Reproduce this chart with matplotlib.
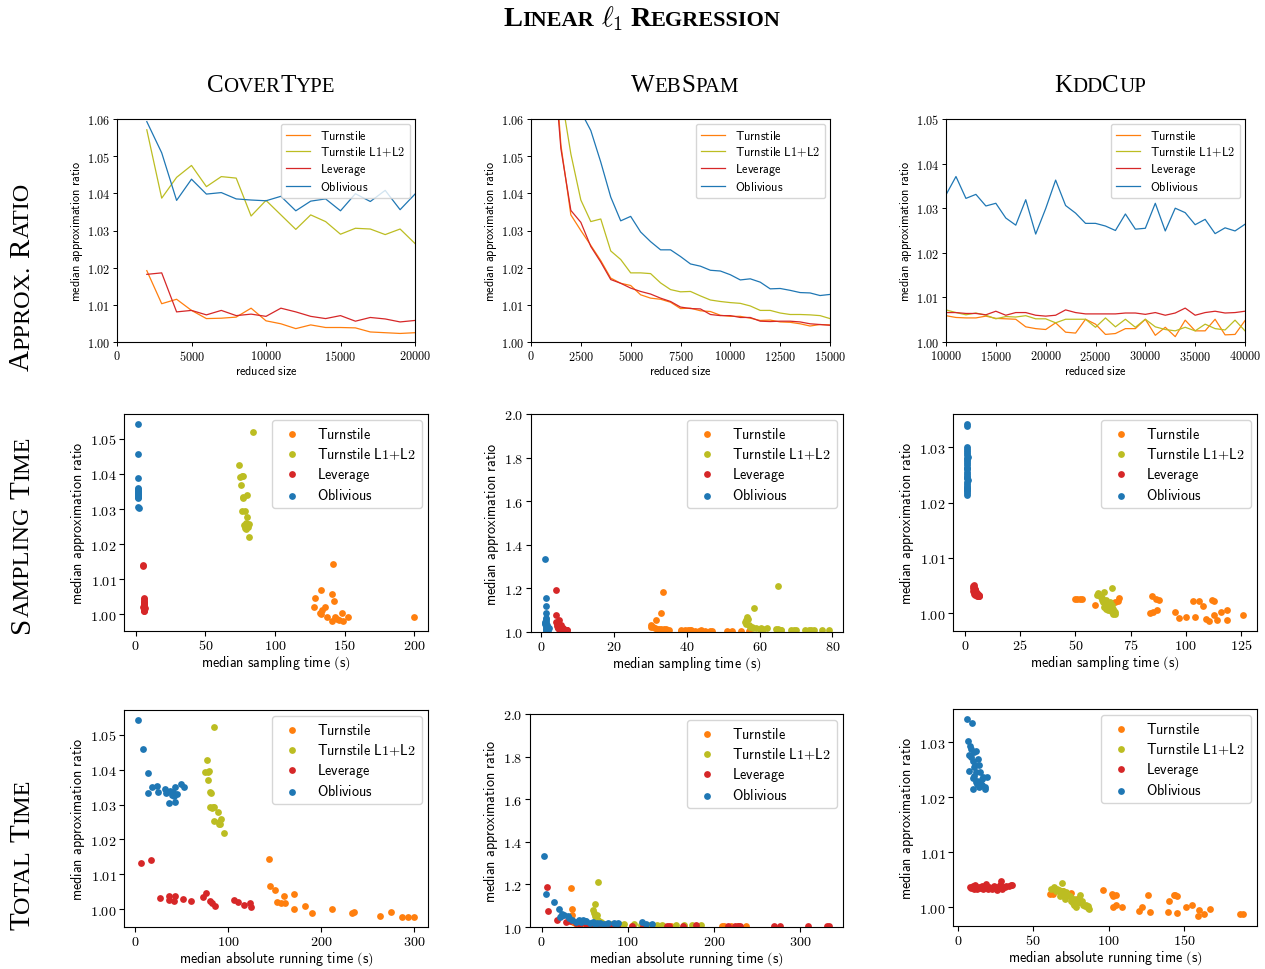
import numpy as np
import matplotlib
matplotlib.use('Agg')
import matplotlib.pyplot as plt
from matplotlib.ticker import FormatStrFormatter, MultipleLocator

plt.rcParams['mathtext.fontset'] = 'cm'

# ---- data ------------------------------------------------------------------
methods = ['Turnstile', 'Turnstile L1+L2', 'Leverage', 'Oblivious']
colors = ['#ff7f0e', '#bcbd22', '#d62728', '#1f77b4']
datasets = ['CoverType', 'WebSpam', 'KddCup']
rows = ['Approx. Ratio', 'Sampling Time', 'Total Time']

# approx. ratio vs reduced size
cov_size = list(range(2000, 20001, 1000))
cov_turn = [1.0192, 1.0103, 1.0115, 1.0085, 1.0063, 1.0064, 1.0067, 1.0091, 1.0057, 1.0049,
            1.0036, 1.0046, 1.0039, 1.0039, 1.0038, 1.0027, 1.0025, 1.0023, 1.0025]
cov_l1l2 = [1.0571, 1.0387, 1.0443, 1.0475, 1.0418, 1.0445, 1.0441, 1.0339, 1.0381, 1.0342,
            1.0303, 1.0342, 1.0324, 1.0290, 1.0306, 1.0304, 1.0289, 1.0304, 1.0265]
cov_lev = [1.0182, 1.0186, 1.0081, 1.0085, 1.0073, 1.0085, 1.0071, 1.0075, 1.0069, 1.0091,
           1.0081, 1.0069, 1.0063, 1.0071, 1.0056, 1.0066, 1.0062, 1.0054, 1.0058]
cov_obl = [1.0593, 1.0509, 1.0381, 1.0438, 1.0398, 1.0402, 1.0385, 1.0382, 1.0380, 1.0392,
           1.0353, 1.0379, 1.0385, 1.0353, 1.0399, 1.0378, 1.0408, 1.0356, 1.0398]

web_size = list(range(1000, 15001, 500))
web_turn = [1.090, 1.053, 1.0342, 1.0300, 1.0260, 1.0219, 1.0172, 1.0158, 1.0152, 1.0127,
            1.0118, 1.0115, 1.0107, 1.0090, 1.0091, 1.0084, 1.0082, 1.0072, 1.0069, 1.0069,
            1.0064, 1.0058, 1.0059, 1.0054, 1.0053, 1.0049, 1.0043, 1.0047, 1.0046]
web_l1l2 = [1.100, 1.067, 1.0506, 1.0382, 1.0324, 1.0331, 1.0245, 1.0222, 1.0186, 1.0186,
            1.0184, 1.0159, 1.0141, 1.0135, 1.0136, 1.0124, 1.0113, 1.0109, 1.0106, 1.0104,
            1.0097, 1.0085, 1.0085, 1.0078, 1.0074, 1.0074, 1.0073, 1.0071, 1.0063]
web_lev = [1.085, 1.052, 1.0354, 1.0322, 1.0257, 1.0215, 1.0168, 1.0158, 1.0145, 1.0136,
           1.0129, 1.0118, 1.0109, 1.0094, 1.0090, 1.0089, 1.0074, 1.0071, 1.0071, 1.0066,
           1.0066, 1.0056, 1.0055, 1.0056, 1.0056, 1.0054, 1.0049, 1.0047, 1.0045]
web_obl = [1.110, 1.090, 1.075, 1.062, 1.0569, 1.0484, 1.0390, 1.0326, 1.0338, 1.0296,
           1.0270, 1.0248, 1.0248, 1.0230, 1.0210, 1.0204, 1.0193, 1.0191, 1.0181, 1.0167,
           1.0170, 1.0161, 1.0143, 1.0144, 1.0139, 1.0133, 1.0132, 1.0125, 1.0128]

kdd_size = list(range(10000, 40001, 1000))
kdd_turn = [1.0059, 1.0055, 1.0054, 1.0054, 1.0058, 1.0053, 1.0052, 1.0051, 1.0034, 1.0030,
            1.0028, 1.0043, 1.0022, 1.0020, 1.0051, 1.0040, 1.0017, 1.0019, 1.0030, 1.0030,
            1.0051, 1.0015, 1.0033, 1.0012, 1.0049, 1.0025, 1.0025, 1.0051, 1.0016, 1.0017, 1.0048]
kdd_l1l2 = [1.0072, 1.0066, 1.0061, 1.0065, 1.0060, 1.0052, 1.0057, 1.0056, 1.0059, 1.0052,
            1.0052, 1.0043, 1.0051, 1.0051, 1.0051, 1.0033, 1.0054, 1.0034, 1.0051, 1.0033,
            1.0051, 1.0034, 1.0028, 1.0025, 1.0033, 1.0025, 1.0040, 1.0030, 1.0027, 1.0049, 1.0025]
kdd_lev = [1.0066, 1.0066, 1.0064, 1.0064, 1.0061, 1.0069, 1.0060, 1.0066, 1.0066, 1.0060,
           1.0058, 1.0060, 1.0072, 1.0066, 1.0063, 1.0063, 1.0063, 1.0063, 1.0065, 1.0065,
           1.0062, 1.0066, 1.0060, 1.0065, 1.0076, 1.0060, 1.0066, 1.0069, 1.0065, 1.0066, 1.0069]
kdd_obl = [1.0330, 1.0371, 1.0322, 1.0331, 1.0305, 1.0311, 1.0278, 1.0262, 1.0319, 1.0242,
           1.0299, 1.0363, 1.0306, 1.0289, 1.0266, 1.0266, 1.0260, 1.0250, 1.0287, 1.0253,
           1.0255, 1.0311, 1.0249, 1.0300, 1.0290, 1.0263, 1.0275, 1.0243, 1.0256, 1.0249, 1.0264]

# CoverType: sampling time, total time, ratio
cov_samp_turn = [142.0, 132.9, 128.9, 141.3, 142.3, 127.9, 136.0, 133.7, 132.5, 133.0,
                 137.2, 140.8, 143.2, 146.3, 148.0, 148.7, 152.3, 200.0, 144.4]
cov_ratio_turn = [1.0144, 1.0068, 1.0045, 1.0058, 1.0038, 1.0020, 1.0019, 1.0012, 1.0003, 1.0001,
                  0.9993, 0.9980, 0.9993, 0.9984, 1.0002, 0.9980, 0.9993, 0.9993, 0.9986]
cov_samp_l1l2 = [84.1, 74.5, 76.4, 77.4, 75.9, 77.4, 80.2, 76.2, 78.8, 80.0,
                 78.0, 81.2, 79.3, 81.0, 75.0, 77.0, 80.5, 79.5, 78.5]
cov_ratio_l1l2 = [1.0521, 1.0426, 1.0394, 1.0394, 1.0369, 1.0334, 1.0339, 1.0293, 1.0295, 1.0277,
                  1.0253, 1.0258, 1.0242, 1.0220, 1.0390, 1.0330, 1.0250, 1.0260, 1.0245]
cov_samp_lev = [5.0, 5.3, 5.8, 6.0, 5.6, 6.1, 5.7, 6.2, 5.9, 6.0,
                5.5, 6.3, 5.8, 6.1, 5.9, 6.2, 6.0, 5.7, 6.1]
cov_ratio_lev = [1.0140, 1.0136, 1.0046, 1.0042, 1.0038, 1.0034, 1.0031, 1.0028, 1.0025, 1.0022,
                 1.0020, 1.0018, 1.0016, 1.0014, 1.0012, 1.0010, 1.0009, 1.0030, 1.0026]
cov_samp_obl = [1.5, 1.5, 1.6, 1.7, 1.5, 1.8, 1.6, 1.7, 1.9, 1.6,
                1.8, 1.7, 1.6, 1.9, 1.7, 1.8, 2.0, 1.6, 1.7]
cov_ratio_obl = [1.0543, 1.0458, 1.0389, 1.0360, 1.0356, 1.0352, 1.0348, 1.0344, 1.0340, 1.0336,
                 1.0333, 1.0330, 1.0345, 1.0350, 1.0338, 1.0307, 1.0304, 1.0335, 1.0342]

cov_tot_turn = [144.4, 145.2, 150.2, 152.7, 157.0, 159.9, 161.7, 170.7, 171.4, 182.9,
                190.1, 212.0, 232.8, 235.0, 263.4, 275.6, 286.7, 293.6, 300.0]
cov_tot_ratio_turn = [1.0144, 1.0067, 1.0057, 1.0020, 1.0018, 1.0038, 1.0018, 1.0045, 1.0002, 1.0010,
                      0.9991, 1.0000, 0.9991, 0.9992, 0.9981, 0.9993, 0.9978, 0.9979, 0.9979]
cov_tot_l1l2 = [85.2, 77.3, 75.1, 80.1, 78.5, 78.3, 80.8, 81.9, 81.2, 85.2,
                89.5, 84.8, 92.0, 90.2, 91.5, 95.9, 83.0, 84.0, 90.0]
cov_tot_ratio_l1l2 = [1.0522, 1.0426, 1.0394, 1.0396, 1.0392, 1.0369, 1.0337, 1.0332, 1.0292, 1.0294,
                      1.0278, 1.0254, 1.0259, 1.0244, 1.0244, 1.0219, 1.0290, 1.0292, 1.0250]
cov_tot_lev = [6.8, 17.2, 26.9, 37.0, 37.0, 43.5, 42.4, 51.7, 60.0, 72.9,
               76.5, 81.2, 82.6, 86.2, 106.7, 110.7, 117.5, 123.2, 124.3]
cov_tot_ratio_lev = [1.0134, 1.0140, 1.0034, 1.0038, 1.0028, 1.0039, 1.0023, 1.0029, 1.0023, 1.0035,
                     1.0046, 1.0024, 1.0018, 1.0011, 1.0026, 1.0020, 1.0012, 1.0018, 1.0008]
cov_tot_obl = [3.2, 8.3, 14.0, 13.7, 18.0, 23.7, 24.4, 32.7, 34.0, 37.0,
               41.3, 43.5, 43.5, 45.6, 49.6, 52.8, 40.2, 42.0, 38.0]
cov_tot_ratio_obl = [1.0542, 1.0458, 1.0389, 1.0334, 1.0350, 1.0354, 1.0337, 1.0345, 1.0332, 1.0305,
                     1.0335, 1.0351, 1.0307, 1.0330, 1.0358, 1.0349, 1.0328, 1.0325, 1.0340]

# WebSpam
web_samp_turn = [33.4, 33.1, 31.5, 30.1, 30.3, 30.8, 31.2, 32.0, 32.5, 33.0, 33.8, 34.4, 35.2, 38.5,
                 39.5, 40.5, 41.2, 42.4, 43.5, 45.0, 46.5, 38.5, 41.0, 51.0, 52.5, 55.0, 57.0, 44.0, 47.0]
web_ratio_turn = [1.183, 1.085, 1.055, 1.031, 1.025, 1.022, 1.018, 1.016, 1.015, 1.014, 1.012, 1.012,
                  1.011, 1.007, 1.008, 1.007, 1.007, 1.006, 1.006, 1.006, 1.005, 1.006, 1.008, 1.004,
                  1.004, 1.004, 1.003, 1.007, 1.005]
web_samp_l1l2 = [65.1, 58.5, 56.6, 56.2, 56.0, 56.4, 57.0, 57.5, 58.0, 59.0, 60.0, 61.0, 62.0, 64.5,
                 65.0, 65.8, 68.5, 69.5, 72.5, 73.5, 75.0, 77.0, 79.0, 56.8, 58.2, 60.5, 66.0, 70.0, 74.0]
web_ratio_l1l2 = [1.213, 1.112, 1.071, 1.055, 1.045, 1.038, 1.030, 1.025, 1.022, 1.018, 1.016, 1.015,
                  1.017, 1.012, 1.012, 1.011, 1.009, 1.009, 1.008, 1.008, 1.008, 1.007, 1.007, 1.060,
                  1.020, 1.019, 1.010, 1.008, 1.008]
web_samp_lev = [4.3, 4.1, 5.1, 4.8, 5.5, 4.5, 6.0, 5.2, 4.7, 6.5, 5.8, 4.4, 7.0, 5.0, 6.2,
                4.9, 5.6, 7.3, 4.6, 6.8, 5.4, 5.9, 4.2, 6.4, 5.3, 7.1, 4.8, 6.0, 5.7]
web_ratio_lev = [1.192, 1.079, 1.055, 1.040, 1.030, 1.035, 1.020, 1.025, 1.022, 1.010, 1.015, 1.028,
                 1.008, 1.018, 1.012, 1.016, 1.010, 1.008, 1.020, 1.009, 1.014, 1.011, 1.045, 1.010,
                 1.013, 1.007, 1.017, 1.009, 1.012]
web_samp_obl = [1.2, 1.3, 1.4, 1.3, 1.5, 1.2, 1.4, 1.6, 1.3, 1.5, 1.7, 1.2, 1.4, 1.8, 1.6,
                1.3, 1.5, 2.0, 1.7, 1.4, 1.9, 1.2, 1.6, 2.2, 1.5, 1.8, 1.3, 2.1, 1.7]
web_ratio_obl = [1.335, 1.154, 1.118, 1.088, 1.063, 1.046, 1.040, 1.032, 1.025, 1.058, 1.020, 1.036,
                 1.015, 1.022, 1.012, 1.028, 1.010, 1.018, 1.008, 1.030, 1.014, 1.042, 1.009, 1.020,
                 1.011, 1.007, 1.052, 1.010, 1.013]

web_tot_turn = [34.7, 35.1, 35.5, 36.0, 37.0, 39.0, 41.0, 44.0, 47.0, 50.0, 55.0, 60.0, 65.0, 70.0,
                78.0, 85.0, 95.0, 105.0, 120.0, 135.0, 141.0, 150.0, 165.0, 180.0, 209.0, 212.0,
                220.0, 228.0, 236.7]
web_tot_ratio_turn = [1.184, 1.085, 1.055, 1.030, 1.022, 1.018, 1.015, 1.012, 1.010, 1.009, 1.008,
                      1.008, 1.007, 1.007, 1.006, 1.006, 1.006, 1.006, 1.005, 1.005, 1.005, 1.005,
                      1.005, 1.005, 1.005, 1.005, 1.005, 1.005, 1.005]
web_tot_l1l2 = [66.0, 61.4, 61.0, 62.0, 65.0, 63.0, 66.0, 67.0, 68.0, 70.0, 72.0, 75.0, 78.0, 82.0,
                88.0, 95.8, 107.0, 115.0, 125.0, 134.4, 140.0, 155.6, 165.0, 175.0, 184.6, 60.0,
                64.0, 69.0, 90.0]
web_tot_ratio_l1l2 = [1.212, 1.110, 1.065, 1.050, 1.035, 1.042, 1.030, 1.025, 1.020, 1.018, 1.016,
                      1.015, 1.014, 1.013, 1.012, 1.012, 1.012, 1.011, 1.010, 1.010, 1.010, 1.010,
                      1.009, 1.009, 1.008, 1.080, 1.055, 1.022, 1.012]
web_tot_lev = [5.9, 7.5, 18.4, 22.0, 28.0, 33.0, 40.0, 45.0, 52.0, 58.0, 65.0, 72.0, 80.0, 88.0,
               105.0, 118.0, 145.5, 148.0, 163.5, 179.0, 216.5, 224.0, 227.5, 230.0, 269.0, 276.5,
               309.4, 331.0, 333.0]
web_tot_ratio_lev = [1.189, 1.077, 1.035, 1.050, 1.025, 1.030, 1.020, 1.015, 1.012, 1.010, 1.010,
                     1.008, 1.008, 1.007, 1.006, 1.006, 1.006, 1.006, 1.006, 1.008, 1.005, 1.006,
                     1.006, 1.005, 1.005, 1.006, 1.004, 1.005, 1.005]
web_tot_obl = [3.1, 4.7, 14.5, 20.4, 23.5, 21.0, 30.2, 32.0, 43.1, 48.0, 52.0, 56.0, 59.6, 64.0,
               68.0, 77.3, 84.3, 89.0, 116.9, 121.6, 127.5, 26.0, 35.0, 40.0, 46.0, 50.0, 62.0,
               72.0, 86.0]
web_tot_ratio_obl = [1.333, 1.153, 1.116, 1.086, 1.063, 1.045, 1.052, 1.040, 1.031, 1.033, 1.028,
                     1.020, 1.025, 1.020, 1.018, 1.019, 1.017, 1.017, 1.024, 1.013, 1.013, 1.055,
                     1.035, 1.025, 1.022, 1.030, 1.015, 1.015, 1.014]

# KddCup
kdd_samp_turn = [50.0, 51.0, 52.0, 53.0, 59.0, 68.0, 70.0, 69.5, 84.5, 86.5, 88.0, 84.0, 85.0, 87.0,
                 95.0, 97.0, 100.0, 104.0, 103.5, 106.0, 108.0, 109.0, 110.5, 112.0, 113.0, 113.0,
                 114.0, 116.0, 118.5, 118.5, 126.0]
kdd_ratio_turn = [1.0026, 1.0026, 1.0026, 1.0026, 1.0015, 1.0020, 1.0027, 1.0023, 1.0032, 1.0026,
                  1.0024, 1.0001, 1.0002, 1.0006, 1.0002, 0.9992, 0.9994, 0.9993, 1.0023, 1.0023,
                  1.0013, 0.9989, 0.9986, 1.0024, 1.0022, 0.9997, 0.9988, 1.0002, 1.0006, 0.9988, 0.9997]
kdd_samp_l1l2 = [60.5, 61.0, 62.0, 63.0, 63.5, 64.0, 64.5, 65.0, 65.5, 66.0, 66.5, 67.0, 67.5, 68.0,
                 61.5, 62.5, 63.0, 64.0, 65.0, 66.0, 67.0, 68.0, 64.5, 65.5, 66.5, 67.5, 63.5, 62.0,
                 60.0, 66.0, 67.0]
kdd_ratio_l1l2 = [1.0037, 1.0032, 1.0028, 1.0038, 1.0022, 1.0025, 1.0018, 1.0015, 1.0012, 1.0010,
                  1.0045, 1.0008, 1.0005, 1.0002, 1.0030, 1.0020, 1.0012, 1.0008, 1.0006, 1.0004,
                  1.0001, 0.9998, 1.0014, 1.0020, 1.0016, 1.0000, 1.0017, 1.0024, 1.0034, 1.0009, 0.9999]
kdd_samp_lev = [3.6, 3.8, 4.0, 4.2, 4.4, 4.6, 4.8, 5.0, 5.2, 5.4, 5.6, 5.8, 6.0, 6.2, 6.4, 3.9,
                4.3, 4.7, 5.1, 5.5, 5.9, 6.3, 4.1, 4.5, 4.9, 5.3, 5.7, 6.1, 4.0, 4.8, 5.6]
kdd_ratio_lev = [1.0046, 1.0050, 1.0052, 1.0048, 1.0044, 1.0042, 1.0040, 1.0038, 1.0036, 1.0035,
                 1.0034, 1.0033, 1.0033, 1.0034, 1.0032, 1.0041, 1.0039, 1.0037, 1.0035, 1.0034,
                 1.0033, 1.0032, 1.0045, 1.0043, 1.0036, 1.0033, 1.0032, 1.0031, 1.0035, 1.0034, 1.0036]
kdd_samp_obl = [0.9, 1.1, 1.0, 1.2, 0.9, 1.0, 1.1, 1.3, 0.9, 1.0, 1.2, 1.1, 0.9, 1.0, 1.2, 1.1,
                1.0, 0.9, 1.3, 1.1, 1.0, 1.2, 0.9, 1.1, 1.0, 1.2, 1.1, 1.0, 0.9, 1.1, 1.0]
kdd_ratio_obl = [1.0342, 1.0338, 1.0300, 1.0297, 1.0293, 1.0290, 1.0286, 1.0282, 1.0279, 1.0275,
                 1.0271, 1.0267, 1.0263, 1.0260, 1.0256, 1.0252, 1.0248, 1.0245, 1.0241, 1.0237,
                 1.0234, 1.0230, 1.0227, 1.0223, 1.0220, 1.0217, 1.0214, 1.0262, 1.0244, 1.0280, 1.0226]

kdd_tot_turn = [61.0, 63.0, 75.0, 79.0, 96.0, 102.0, 103.0, 105.0, 103.0, 105.0, 109.0, 120.0, 122.0,
                126.0, 127.0, 139.0, 140.0, 143.0, 144.0, 145.0, 145.0, 151.0, 155.0, 159.0, 160.0,
                163.0, 167.0, 187.0, 189.0, 70.0, 74.0]
kdd_tot_ratio_turn = [1.0025, 1.0025, 1.0026, 1.0015, 1.0032, 1.0025, 1.0021, 1.0023, 1.0001, 1.0005,
                      1.0000, 0.9993, 1.0001, 1.0023, 0.9991, 0.9991, 1.0012, 1.0023, 1.0023, 1.0021,
                      0.9989, 1.0001, 1.0005, 0.9984, 0.9996, 0.9987, 0.9997, 0.9987, 0.9988, 1.0030, 1.0025]
kdd_tot_l1l2 = [64.0, 65.0, 69.0, 67.0, 68.0, 70.0, 72.0, 71.0, 74.0, 76.0, 77.0, 78.0, 79.0, 80.0,
                81.0, 83.0, 84.0, 86.0, 87.0, 66.0, 70.0, 73.0, 75.0, 77.0, 80.0, 82.0, 85.0, 86.0,
                72.0, 68.0, 62.0]
kdd_tot_ratio_l1l2 = [1.0036, 1.0030, 1.0045, 1.0032, 1.0027, 1.0024, 1.0026, 1.0015, 1.0020, 1.0008,
                      1.0005, 1.0000, 1.0008, 1.0015, 1.0022, 1.0005, 1.0003, 1.0002, 0.9997, 1.0034,
                      1.0030, 1.0022, 1.0012, 1.0015, 1.0010, 1.0012, 1.0005, 0.9999, 1.0028, 1.0021, 1.0033]
kdd_tot_lev = [8.0, 9.0, 10.0, 11.0, 11.5, 12.0, 13.0, 14.0, 15.0, 16.0, 17.0, 18.0, 18.5, 19.0, 20.0,
               21.0, 22.0, 23.0, 24.0, 25.0, 26.0, 27.0, 28.0, 28.5, 29.0, 30.0, 31.0, 32.0, 34.0,
               35.0, 36.0]
kdd_tot_ratio_lev = [1.0037, 1.0035, 1.0038, 1.0034, 1.0041, 1.0036, 1.0033, 1.0037, 1.0035, 1.0039,
                     1.0034, 1.0038, 1.0043, 1.0036, 1.0034, 1.0037, 1.0035, 1.0033, 1.0038, 1.0036,
                     1.0031, 1.0035, 1.0040, 1.0048, 1.0034, 1.0037, 1.0036, 1.0039, 1.0038, 1.0040, 1.0041]
kdd_tot_obl = [6.0, 9.4, 6.7, 8.0, 9.0, 7.5, 11.0, 11.8, 10.0, 13.6, 11.5, 14.0, 7.3, 14.7, 10.0,
               11.0, 17.0, 19.4, 12.0, 13.0, 15.0, 14.0, 16.0, 18.0, 18.0, 10.0, 13.0, 16.0, 11.0,
               9.0, 12.0]
kdd_tot_ratio_obl = [1.0342, 1.0334, 1.0301, 1.0293, 1.0288, 1.0276, 1.0281, 1.0283, 1.0265, 1.0270,
                     1.0258, 1.0259, 1.0248, 1.0246, 1.0235, 1.0238, 1.0236, 1.0237, 1.0227, 1.0224,
                     1.0228, 1.0219, 1.0222, 1.0219, 1.0214, 1.0214, 1.0230, 1.0232, 1.0255, 1.0272, 1.0245]

# ---- layout ------------------------------------------------------------------
W, H = 1265, 970
fig = plt.figure(figsize=(W / 100, H / 100), dpi=100)


def add_ax(l, t, r, b):
    return fig.add_axes([l / W, 1 - b / H, (r - l) / W, (b - t) / H])


def sf(s):
    return r'$\mathsf{' + s.replace(' ', r'\ ').replace('+', '{+}') + '}$'


line_panels = [
    (cov_size, [cov_turn, cov_l1l2, cov_lev, cov_obl], (0, 20000), 5000, (1.0, 1.06)),
    (web_size, [web_turn, web_l1l2, web_lev, web_obl], (0, 15000), 2500, (1.0, 1.06)),
    (kdd_size, [kdd_turn, kdd_l1l2, kdd_lev, kdd_obl], (10000, 40000), 5000, (1.0, 1.05)),
]
line_boxes = [(117, 120, 415, 343), (531, 120, 830, 343), (946, 120, 1245, 343)]

for box, (xs, series, xlim, xstep, ylim) in zip(line_boxes, line_panels):
    ax = add_ax(*box)
    for ys, c, m in zip(series, colors, methods):
        ax.plot(xs, ys, color=c, lw=0.9, label=sf(m))
    ax.set_xlim(*xlim)
    ax.set_ylim(*ylim)
    ax.xaxis.set_major_locator(MultipleLocator(xstep))
    ax.yaxis.set_major_locator(MultipleLocator(0.01))
    ax.xaxis.set_major_formatter(FormatStrFormatter('$%d$'))
    ax.yaxis.set_major_formatter(FormatStrFormatter('$%.2f$'))
    ax.tick_params(labelsize=8.8, length=3, width=0.7, pad=2)
    ax.set_xlabel(sf('reduced size'), fontsize=8.8, labelpad=1)
    ax.set_ylabel(sf('median approximation ratio'), fontsize=8.8, labelpad=1.5)
    ax.legend(loc='upper right', fontsize=8.8, labelspacing=0.25, borderaxespad=0.4)

scatter_panels = [
    # (x series, y series, xlabel, y step, y format, ylim, x step)
    ([cov_samp_turn, cov_samp_l1l2, cov_samp_lev, cov_samp_obl],
     [cov_ratio_turn, cov_ratio_l1l2, cov_ratio_lev, cov_ratio_obl],
     'median sampling time (s)', 0.01, '$%.2f$', None, 50),
    ([web_samp_turn, web_samp_l1l2, web_samp_lev, web_samp_obl],
     [web_ratio_turn, web_ratio_l1l2, web_ratio_lev, web_ratio_obl],
     'median sampling time (s)', 0.2, '$%.1f$', (1.0, 2.0), 20),
    ([kdd_samp_turn, kdd_samp_l1l2, kdd_samp_lev, kdd_samp_obl],
     [kdd_ratio_turn, kdd_ratio_l1l2, kdd_ratio_lev, kdd_ratio_obl],
     'median sampling time (s)', 0.01, '$%.2f$', None, 25),
    ([cov_tot_turn, cov_tot_l1l2, cov_tot_lev, cov_tot_obl],
     [cov_tot_ratio_turn, cov_tot_ratio_l1l2, cov_tot_ratio_lev, cov_tot_ratio_obl],
     'median absolute running time (s)', 0.01, '$%.2f$', None, 100),
    ([web_tot_turn, web_tot_l1l2, web_tot_lev, web_tot_obl],
     [web_tot_ratio_turn, web_tot_ratio_l1l2, web_tot_ratio_lev, web_tot_ratio_obl],
     'median absolute running time (s)', 0.2, '$%.1f$', (1.0, 2.0), 100),
    ([kdd_tot_turn, kdd_tot_l1l2, kdd_tot_lev, kdd_tot_obl],
     [kdd_tot_ratio_turn, kdd_tot_ratio_l1l2, kdd_tot_ratio_lev, kdd_tot_ratio_obl],
     'median absolute running time (s)', 0.01, '$%.2f$', None, 50),
]
scatter_boxes = [(124, 415, 428, 632), (531, 415, 843, 633), (953, 415, 1257, 632),
                 (124, 711, 428, 928), (530, 715, 843, 928), (953, 710, 1257, 927)]

for box, (xss, yss, xlab, ystep, yfmt, ylim, xstep) in zip(scatter_boxes, scatter_panels):
    ax = add_ax(*box)
    for xs, ys, c, m in zip(xss, yss, colors, methods):
        ax.scatter(xs, ys, s=24, color=c, label=sf(m), linewidths=0)
    if ylim:
        ax.set_ylim(*ylim)
    ax.xaxis.set_major_locator(MultipleLocator(xstep))
    ax.yaxis.set_major_locator(MultipleLocator(ystep))
    ax.xaxis.set_major_formatter(FormatStrFormatter('$%d$'))
    ax.yaxis.set_major_formatter(FormatStrFormatter(yfmt))
    ax.tick_params(labelsize=10.2, length=3.5, width=0.8, pad=1.8)
    ax.set_xlabel(sf(xlab), fontsize=10.2, labelpad=0.5)
    ax.set_ylabel(sf('median approximation ratio'), fontsize=10.2, labelpad=2)
    ax.legend(loc='upper right', fontsize=10.2, labelspacing=0.3, borderaxespad=0.45)

# ---- small caps titles -----------------------------------------------------
fig.canvas.draw()
renderer = fig.canvas.get_renderer()


def small_caps(cx, cy, word_list, big, small, vertical=False, weight='normal', gap=7):
    # build pieces: first letter of each word big, rest small upper case
    pieces = []
    for i, w in enumerate(word_list):
        if i > 0:
            pieces.append(None)
        if w.startswith('$'):
            pieces.append((w, big))
            continue
        caps = True
        for ch in w:
            size = big if (caps or ch.isupper()) else small
            if pieces and pieces[-1] is not None and pieces[-1][1] == size:
                pieces[-1] = (pieces[-1][0] + ch.upper(), size)
            else:
                pieces.append((ch.upper(), size))
            caps = False
    texts = []
    lengths = []
    for p in pieces:
        if p is None:
            texts.append(None)
            lengths.append(gap)
            continue
        t = fig.text(0, 0, p[0], fontsize=p[1], family='Liberation Serif', weight=weight,
                     rotation=90 if vertical else 0, ha='left', va='baseline',
                     rotation_mode='anchor')
        ext = t.get_window_extent(renderer)
        texts.append(t)
        lengths.append(ext.height if vertical else ext.width)
    pos = -sum(lengths) / 2
    for t, L in zip(texts, lengths):
        if t is not None:
            if vertical:
                t.set_position((cx / W, 1 - (cy - pos) / H))
            else:
                t.set_position(((cx + pos) / W, 1 - cy / H))
        pos += L


small_caps(642, 26, ['Linear', r'$\ell_1$', 'Regression'], 20.5, 16, weight='bold', gap=7)
for cx, name in zip([271, 685, 1100], ['CoverType', 'WebSpam', 'KddCup']):
    small_caps(cx, 92, [name], 18, 15)
for cy, name in zip([277, 535, 855], rows):
    small_caps(29, cy, name.split(), 21, 17.5, vertical=True, gap=8)

fig.savefig('out.png', dpi=100)
